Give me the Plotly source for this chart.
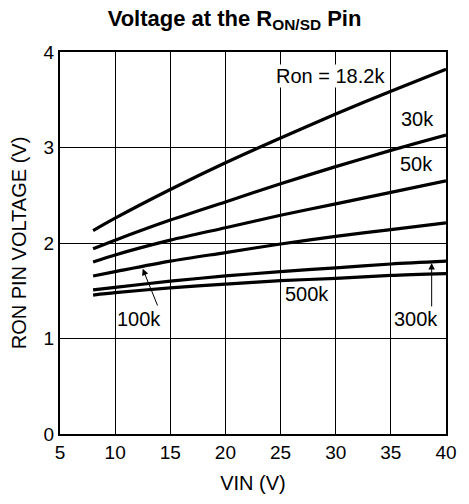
import plotly.graph_objects as go

vin = [8, 10, 15, 20, 25, 30, 35, 40]
ron_18k2 = [2.13, 2.26, 2.56, 2.84, 3.10, 3.35, 3.59, 3.82]
ron_30k = [1.94, 2.03, 2.24, 2.43, 2.62, 2.80, 2.97, 3.13]
ron_50k = [1.80, 1.875, 2.03, 2.16, 2.29, 2.41, 2.53, 2.65]
ron_100k = [1.655, 1.70, 1.81, 1.90, 1.99, 2.07, 2.14, 2.21]
ron_300k = [1.51, 1.535, 1.60, 1.655, 1.70, 1.74, 1.78, 1.81]
ron_500k = [1.455, 1.48, 1.53, 1.57, 1.605, 1.63, 1.66, 1.68]

series = [ron_18k2, ron_30k, ron_50k, ron_100k, ron_300k, ron_500k]

x_ticks = [5, 10, 15, 20, 25, 30, 35, 40]
y_ticks = [0, 1, 2, 3, 4]

FONT = "Liberation Sans, Arial, Helvetica, sans-serif"

fig = go.Figure()
for s in series:
    fig.add_trace(go.Scatter(x=vin, y=s, mode="lines",
                             line=dict(color="black", width=3.2, shape="spline", smoothing=0.8),
                             showlegend=False, hoverinfo="skip"))

ann_font = dict(family=FONT, size=20, color="black")
fig.add_annotation(x=29.5, y=3.75, text="Ron = 18.2k", showarrow=False,
                   font=ann_font, bgcolor="white", borderpad=0)
fig.add_annotation(x=37.4, y=3.30, text="30k", showarrow=False, font=ann_font)
fig.add_annotation(x=37.3, y=2.83, text="50k", showarrow=False, font=ann_font)
fig.add_annotation(x=27.4, y=1.47, text="500k", showarrow=False, font=ann_font)
fig.add_annotation(x=12.5, y=1.73, ax=13.9, ay=1.33, axref="x", ayref="y",
                   text="", showarrow=True, arrowhead=2, arrowsize=1.3,
                   arrowwidth=1, arrowcolor="black")
fig.add_annotation(x=12.2, y=1.20, text="100k", showarrow=False, font=ann_font)
fig.add_annotation(x=38.7, y=1.79, ax=38.7, ay=1.32, axref="x", ayref="y",
                   text="", showarrow=True, arrowhead=2, arrowsize=1.3,
                   arrowwidth=1, arrowcolor="black")
fig.add_annotation(x=37.3, y=1.20, text="300k", showarrow=False, font=ann_font)

axis_common = dict(showgrid=True, gridcolor="black", gridwidth=1,
                   showline=True, linecolor="black", linewidth=2, mirror=True,
                   zeroline=False, ticks="", tickfont=dict(family=FONT, size=19, color="black"),
                   title_font=dict(family=FONT, size=20, color="black"))

fig.update_xaxes(range=[5, 40], tickvals=x_ticks, title_text="VIN (V)",
                 title_standoff=14, **axis_common)
fig.update_yaxes(range=[0, 4], tickvals=y_ticks, title_text="RON PIN VOLTAGE (V)",
                 title_standoff=12, **axis_common)

fig.update_layout(
    width=469, height=504,
    margin=dict(l=60, r=14, t=52, b=70),
    paper_bgcolor="white", plot_bgcolor="white",
    title=dict(text="<b>Voltage at the R<sub>ON/SD</sub> Pin</b>", x=0.5, xanchor="center",
               y=0.964, yanchor="middle", font=dict(family=FONT, size=22, color="black")),
)

fig.write_html("out.html", config={"displayModeBar": False},
               post_script="document.body.style.margin='0';document.body.style.overflow='hidden';")
